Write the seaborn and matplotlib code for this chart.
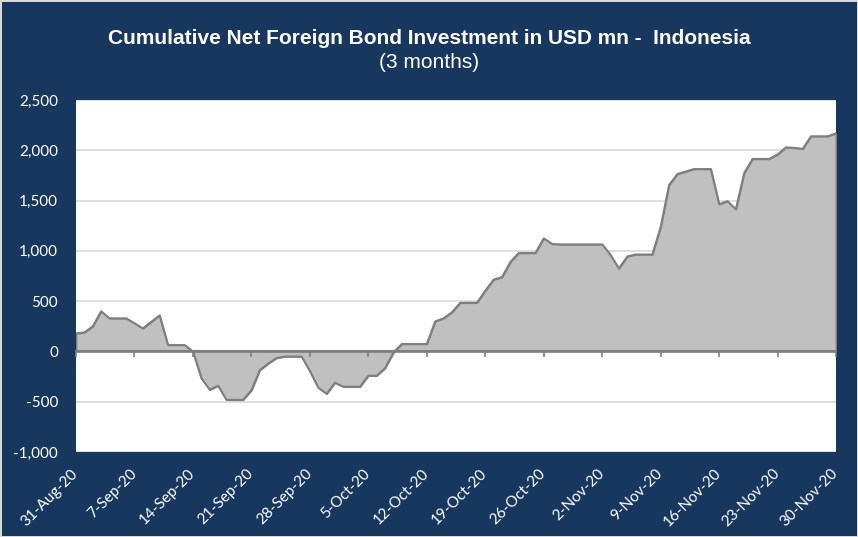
import matplotlib

matplotlib.use("Agg")
import matplotlib.dates as mdates
import matplotlib.pyplot as plt
import pandas as pd
import seaborn as sns
from matplotlib.ticker import FuncFormatter

# daily cumulative net foreign bond flows, USD mn (31-Aug-20 .. 30-Nov-20)
start_date = "2020-08-31"
end_date = "2020-11-30"
net_flows = [
    180, 190, 250, 400, 330, 330, 330, 280, 230, 295,
    360, 65, 65, 65, 0, -265, -380, -340, -480, -480,
    -480, -385, -185, -120, -65, -50, -50, -50, -195, -360,
    -420, -310, -350, -350, -350, -240, -240, -165, -10, 75,
    75, 75, 75, 300, 330, 390, 485, 485, 485, 605,
    715, 740, 890, 980, 980, 980, 1125, 1070, 1065, 1065,
    1065, 1065, 1065, 1065, 960, 825, 945, 965, 965, 965,
    1240, 1655, 1765, 1790, 1815, 1815, 1815, 1465, 1495, 1415,
    1775, 1915, 1915, 1915, 1960, 2030, 2025, 2015, 2140, 2140,
    2140, 2170,
]
y_ticks = [-1000, -500, 0, 500, 1000, 1500, 2000, 2500]

title = "Cumulative Net Foreign Bond Investment in USD mn -  Indonesia"
subtitle = "(3 months)"

navy = "#17375E"
fill_grey = "#C0C0C0"
line_grey = "#7F7F7F"

dates = pd.date_range(start_date, end_date, freq="D")
df = pd.DataFrame({"date": dates, "flow": net_flows})
tick_dates = pd.date_range(start_date, end_date, freq="7D")
tick_labels = [f"{d.day}-{d.strftime('%b')}-{d.strftime('%y')}" for d in tick_dates]

sns.set_theme(style="white")
plt.rcParams["font.family"] = ["Liberation Sans", "DejaVu Sans"]

fig = plt.figure(figsize=(8.58, 5.37), dpi=100)
fig.patch.set_facecolor(navy)
fig.patch.set_edgecolor("#D9D9D9")
fig.patch.set_linewidth(2)

ax = fig.add_axes([76 / 858, 1 - 452 / 537, 760 / 858, 352 / 537])
ax.set_facecolor("white")
ax.set_axisbelow(True)
ax.grid(axis="y", color="#D9D9D9", linewidth=1.2)
ax.grid(axis="x", visible=False)

ax.fill_between(
    df["date"], df["flow"], 0,
    facecolor=fill_grey, edgecolor=line_grey, linewidth=1.3, zorder=2,
)
sns.lineplot(data=df, x="date", y="flow", ax=ax, color=line_grey, linewidth=1.3, zorder=3)

ax.set_xlim(dates[0], dates[-1])
ax.set_ylim(-1000, 2500)
ax.set_yticks(y_ticks)
ax.yaxis.set_major_formatter(FuncFormatter(lambda v, _: f"{v:,.0f}"))
ax.set_xticks(tick_dates)
ax.set_xticklabels(tick_labels)
ax.set_xlabel("")
ax.set_ylabel("")
for side in ax.spines:
    ax.spines[side].set_visible(False)

ax.tick_params(axis="y", length=0, pad=13, labelcolor="white", labelsize=11)
ax.tick_params(axis="x", length=0, pad=14, labelcolor="white", labelsize=11)
for lab in ax.get_yticklabels():
    lab.set_family(["Lato", "DejaVu Sans"])
for lab in ax.get_xticklabels():
    lab.set_family(["Lato", "DejaVu Sans"])
    lab.set_rotation(45)
    lab.set_ha("right")
    lab.set_va("center")
    lab.set_rotation_mode("anchor")

# category axis crossing at zero, with its tick marks
ax2 = ax.twiny()
ax2.set_xlim(ax.get_xlim())
ax2.set_xticks(mdates.date2num(tick_dates))
ax2.xaxis.set_ticks_position("bottom")
ax2.spines["bottom"].set_position(("data", 0))
ax2.spines["bottom"].set_color(line_grey)
ax2.spines["bottom"].set_linewidth(1.5)
for side in ["top", "left", "right"]:
    ax2.spines[side].set_visible(False)
ax2.tick_params(axis="x", direction="out", length=4, width=1.2, color=line_grey,
                labelbottom=False, labeltop=False, top=False)
ax2.grid(False)

fig.text(0.5, 1 - 39 / 537, title, ha="center", va="center",
         fontsize=15, fontweight="bold", color="white")
fig.text(0.5, 1 - 62 / 537, subtitle, ha="center", va="center",
         fontsize=15, color="white")

fig.savefig("out.png", dpi=100, facecolor=fig.get_facecolor(), edgecolor=fig.get_edgecolor())
